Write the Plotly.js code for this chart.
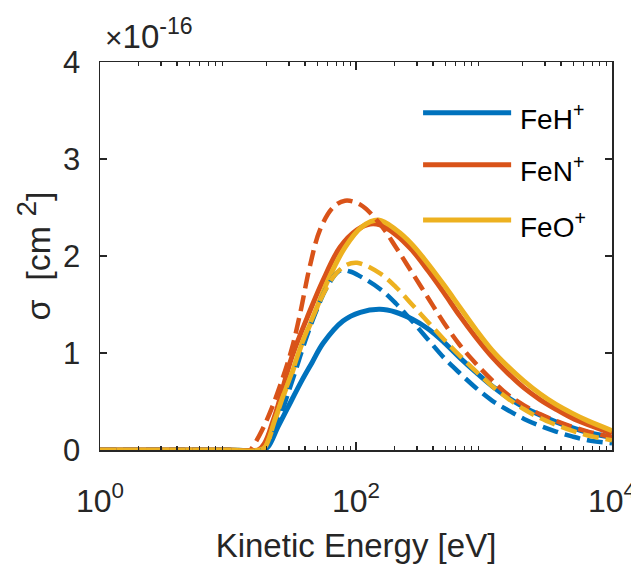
<!DOCTYPE html>
<html>
<head>
<meta charset="utf-8">
<script src="https://cdn.plot.ly/plotly-3.0.1.min.js"></script>
<style>html,body{margin:0;padding:0;background:#fff;}#chart{width:631px;height:579px;}</style>
</head>
<body>
<div id="chart"></div>
<script>
// Kinetic energy [eV] and cross section sigma [x 1e-16 cm^2]
const feH_solid_E = [1, 10, 18.4, 20.5, 24.6, 29.4, 37.9, 45.3, 55.3, 79.1, 108, 154, 205, 274, 365, 487, 649, 866, 1155, 1540, 2054, 2738, 3652, 4870, 6494, 10000];
const feH_solid_V = [0, 0, 0, 0.03, 0.24, 0.44, 0.72, 0.9, 1.1, 1.33, 1.42, 1.45, 1.42, 1.35, 1.25, 1.11, 0.95, 0.80, 0.66, 0.54, 0.44, 0.36, 0.29, 0.23, 0.18, 0.13];

const feN_solid_E = [1, 10, 17.2, 19.5, 22.5, 24.6, 30.5, 33.4, 41.4, 55.3, 75.0, 102, 129, 154, 205, 274, 365, 487, 649, 866, 1155, 1540, 2054, 2738, 3652, 4870, 6494, 10000];
const feN_solid_V = [0, 0, 0, 0.08, 0.3, 0.46, 0.9, 1.05, 1.36, 1.75, 2.09, 2.27, 2.33, 2.32, 2.22, 2.06, 1.85, 1.62, 1.38, 1.16, 0.96, 0.79, 0.64, 0.52, 0.42, 0.33, 0.26, 0.17];

const feO_solid_E = [1, 10, 17.8, 19.5, 23.3, 26.9, 31.6, 37.9, 45.3, 60.4, 82.1, 111, 150, 205, 274, 365, 487, 649, 866, 1155, 1540, 2054, 2738, 3652, 4870, 6494, 10000];
const feO_solid_V = [0, 0, 0, 0.03, 0.31, 0.55, 0.79, 1.1, 1.34, 1.75, 2.09, 2.3, 2.37, 2.27, 2.12, 1.92, 1.70, 1.47, 1.24, 1.03, 0.86, 0.71, 0.58, 0.47, 0.38, 0.30, 0.20];

const feH_dash_E = [1, 10, 18.4, 20.5, 24.6, 28.4, 33.4, 40.0, 47.8, 59.4, 75.0, 89.8, 108, 154, 205, 274, 365, 487, 649, 866, 1155, 1540, 2054, 2738, 3652, 4870, 6494, 10000];
const feH_dash_V = [0, 0, 0, 0.05, 0.28, 0.52, 0.8, 1.12, 1.4, 1.68, 1.85, 1.84, 1.79, 1.66, 1.51, 1.33, 1.14, 0.95, 0.79, 0.64, 0.51, 0.41, 0.32, 0.25, 0.19, 0.14, 0.10, 0.07];

const feN_dash_E = [1, 10, 14.9, 15.4, 18.4, 22.1, 26.4, 31.6, 36.5, 43.7, 52.3, 66.1, 82.0, 108, 154, 205, 274, 365, 487, 649, 866, 1155, 1540, 2054, 2738, 3652, 4870, 6494, 10000];
const feN_dash_V = [0, 0, 0, 0.02, 0.2, 0.44, 0.72, 1.05, 1.4, 1.9, 2.27, 2.5, 2.57, 2.53, 2.33, 2.09, 1.83, 1.57, 1.31, 1.08, 0.89, 0.72, 0.57, 0.46, 0.37, 0.30, 0.24, 0.19, 0.13];

const feO_dash_E = [1, 10, 17.8, 19.5, 23.3, 26.9, 31.6, 37.9, 45.3, 54.3, 66.1, 82.1, 102, 154, 205, 274, 365, 487, 649, 866, 1155, 1540, 2054, 2738, 3652, 4870, 6494, 10000];
const feO_dash_V = [0, 0, 0, 0.03, 0.31, 0.55, 0.8, 1.1, 1.35, 1.58, 1.78, 1.9, 1.93, 1.82, 1.68, 1.50, 1.32, 1.14, 0.97, 0.81, 0.66, 0.53, 0.42, 0.33, 0.26, 0.20, 0.15, 0.10];

const seriesNames = ['FeH<sup>+</sup>', 'FeN<sup>+</sup>', 'FeO<sup>+</sup>'];
const seriesColors = ['#0072BD', '#D95319', '#EDB120'];
const xTickVals = [1, 100, 10000];
const xTickText = ['10<sup>0</sup>', '10<sup>2</sup>', '10<sup>4</sup>'];
const yTickVals = [0, 1, 2, 3, 4];

const FONT = 'Liberation Sans, Arial, Helvetica, sans-serif';
const AX = '#262626';
const NB = '\u00a0';

const solids = [[feH_solid_E, feH_solid_V], [feN_solid_E, feN_solid_V], [feO_solid_E, feO_solid_V]];
const dashes = [[feH_dash_E, feH_dash_V], [feN_dash_E, feN_dash_V], [feO_dash_E, feO_dash_V]];

const traces = [];
solids.forEach((s, i) => traces.push({
  x: s[0], y: s[1], type: 'scatter', mode: 'lines', name: seriesNames[i], showlegend: false,
  line: {color: seriesColors[i], width: 5, shape: 'spline', smoothing: 1.0}
}));
dashes.forEach((s, i) => traces.push({
  x: s[0], y: s[1], type: 'scatter', mode: 'lines', showlegend: false,
  line: {color: seriesColors[i], width: 4.5, dash: '16px,7px', shape: 'spline', smoothing: 1.0}
}));

// minor tick positions for the log axis
const minorX = [];
for (let d = 0; d < 4; d++) for (let k = 2; k <= 9; k++) minorX.push(k * Math.pow(10, d));

// manual legend (MATLAB-style long line samples)
const legY = [0.869, 0.735, 0.593];
const shapes = [];
const annotations = [];
legY.forEach((y, i) => {
  shapes.push({type: 'line', xref: 'paper', yref: 'paper', x0: 0.631, x1: 0.803, y0: y, y1: y,
               line: {color: seriesColors[i], width: 5}});
  annotations.push({xref: 'paper', yref: 'paper', x: 0.816, y: y - 0.012, xanchor: 'left', yanchor: 'middle',
                    text: seriesNames[i], showarrow: false, font: {family: FONT, size: 28, color: '#000'}});
});
annotations.push({xref: 'paper', yref: 'paper', x: 0.006, y: 1.012, xanchor: 'left', yanchor: 'bottom',
                  text: '<span style="font-size:30px">×</span>10<sup>-16</sup>', showarrow: false,
                  font: {family: FONT, size: 33, color: AX}});

const layout = {
  width: 631, height: 579,
  margin: {l: 100, r: 19, t: 62, b: 129},
  paper_bgcolor: '#fff', plot_bgcolor: '#fff',
  showlegend: false,
  font: {family: FONT, color: AX},
  xaxis: {
    type: 'log', range: [0, 4], tickmode: 'array', tickvals: xTickVals, ticktext: xTickText,
    ticks: 'inside', ticklen: 8, tickwidth: 1.2, tickcolor: AX,
    showline: true, linecolor: AX, linewidth: 1.5, mirror: 'allticks',
    showgrid: false, zeroline: false, ticklabeloverflow: 'allow', ticklabelstandoff: 22,
    tickfont: {family: FONT, size: 32, color: AX},
    minor: {tickmode: 'array', tickvals: minorX, ticks: 'inside', ticklen: 4, tickcolor: AX, tickwidth: 1.2, showgrid: false},
    title: {text: 'Kinetic Energy [eV]', font: {family: FONT, size: 33, color: AX}, standoff: 16}
  },
  yaxis: {
    range: [0, 4], tickmode: 'array', tickvals: yTickVals,
    ticks: 'inside', ticklen: 7, tickwidth: 1.2, tickcolor: AX,
    showline: true, linecolor: AX, linewidth: 1.5, mirror: 'allticks',
    showgrid: false, zeroline: false, ticklabelstandoff: 12,
    tickfont: {family: FONT, size: 31, color: AX},
    title: {text: 'σ' + NB + NB + '[cm' + NB + '<sup><span style="font-size:28px">2</span></sup>]',
            font: {family: FONT, size: 34, color: AX}, standoff: 2}
  },
  shapes: shapes,
  annotations: annotations
};

Plotly.newPlot('chart', traces, layout, {displayModeBar: false, staticPlot: true});
</script>
</body>
</html>
